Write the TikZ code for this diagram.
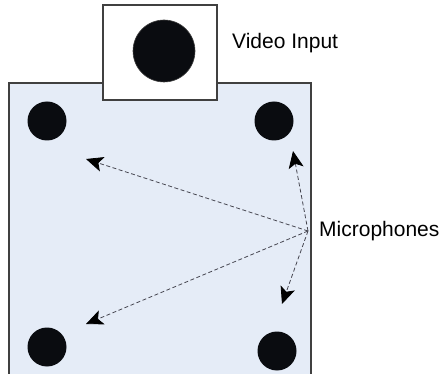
\documentclass[tikz,border=0pt]{standalone}
\usepackage{fontspec}
\setmainfont{Liberation Sans}
\usetikzlibrary{arrows.meta}
\definecolor{panel}{RGB}{229,236,247}
\definecolor{edge}{RGB}{64,64,64}
\definecolor{dot}{RGB}{10,12,16}
\definecolor{wire}{RGB}{70,70,80}
\tikzset{
  board/.style={draw=edge, line width=1.1pt, fill=panel},
  cambox/.style={draw=edge, line width=1.1pt, fill=white},
  micdot/.style={circle, fill=dot, inner sep=0pt, minimum size=39pt},
  lens/.style={circle, fill=dot, draw=edge, line width=0.6pt, inner sep=0pt, minimum size=62pt},
  caption/.style={font=\fontsize{21}{25}\selectfont, anchor=west, inner sep=0pt},
  pointer/.style={draw=wire, line width=0.8pt, dash pattern=on 4pt off 2.5pt,
    -{Stealth[length=17pt, width=15pt, inset=4pt, fill=black, color=black]}}
}
\begin{document}
\begin{tikzpicture}[x=1pt, y=-1pt]
  \useasboundingbox (0,0) rectangle (442,374);
  \clip (0,0) rectangle (442,374);
  % device body
  \draw[board] (9,83) rectangle (311,390);
  % camera housing on top
  \draw[cambox] (103,5) rectangle (217,100);
  \node[lens] (cam) at (164,51) {};
  \node[caption] (vidlbl) at (232,43) {Video Input};
  % microphones
  \node[micdot] (mtl) at (47,121) {};
  \node[micdot] (mtr) at (274,121) {};
  \node[micdot] (mbl) at (47,347) {};
  \node[micdot] (mbr) at (277,351) {};
  \node[caption] (miclbl) at (319,231) {Microphones};
  % pointers from the label towards each microphone
  \coordinate (hub) at (308,231);
  \coordinate (ptl) at (86,159);
  \coordinate (ptr) at (293,151);
  \coordinate (pbl) at (86,324);
  \coordinate (pbr) at (282,304);
  \draw[pointer] (hub) -- (ptl);
  \draw[pointer] (hub) -- (ptr);
  \draw[pointer] (hub) -- (pbl);
  \draw[pointer] (hub) -- (pbr);
\end{tikzpicture}
\end{document}
